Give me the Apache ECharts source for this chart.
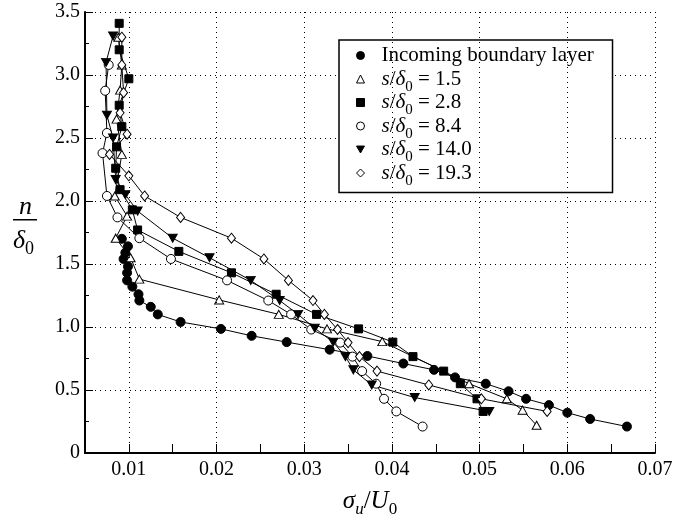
<!DOCTYPE html>
<html>
<head>
<meta charset="utf-8">
<script src="https://cdn.jsdelivr.net/npm/echarts@6/dist/echarts.min.js"></script>
<style>
  html, body { margin: 0; padding: 0; background: #fff; }
  #chart { width: 678px; height: 525px; }
</style>
</head>
<body>
<div id="chart"></div>
<script>
// Turbulence intensity profiles: n/δ0 against σu/U0
const xGridValues = [0.01, 0.02, 0.03, 0.04, 0.05, 0.06, 0.07];

const incomingX = [0.0092, 0.0099, 0.0096, 0.0094, 0.0099, 0.0098, 0.0098, 0.0104, 0.0111, 0.0112, 0.0125, 0.0133, 0.0159, 0.0205, 0.0240, 0.0280, 0.0329, 0.0372, 0.0413, 0.0448, 0.0472, 0.0507, 0.0533, 0.0553, 0.0579, 0.0600, 0.0626, 0.0668];
const incomingY = [1.70, 1.64, 1.59, 1.54, 1.48, 1.43, 1.37, 1.32, 1.26, 1.21, 1.16, 1.10, 1.04, 0.985, 0.93, 0.88, 0.82, 0.77, 0.71, 0.66, 0.60, 0.55, 0.49, 0.43, 0.38, 0.32, 0.27, 0.21];

const s15X = [0.0088, 0.0092, 0.0090, 0.0086, 0.0092, 0.0084, 0.0098, 0.0085, 0.0102, 0.0112, 0.0203, 0.0271, 0.0326, 0.0389, 0.0488, 0.0531, 0.0549, 0.0565];
const s15Y = [3.30, 3.08, 2.88, 2.65, 2.37, 2.04, 1.88, 1.705, 1.55, 1.38, 1.215, 1.10, 0.985, 0.884, 0.55, 0.43, 0.34, 0.22];

const s28X = [0.0089, 0.0089, 0.0100, 0.0089, 0.0092, 0.0086, 0.0085, 0.0090, 0.0104, 0.0110, 0.0157, 0.0217, 0.0268, 0.0314, 0.0362, 0.0401, 0.0424, 0.0459, 0.0478, 0.0497, 0.0504];
const s28Y = [3.41, 3.20, 2.97, 2.76, 2.59, 2.43, 2.26, 2.09, 1.93, 1.77, 1.60, 1.43, 1.26, 1.10, 0.985, 0.88, 0.765, 0.65, 0.55, 0.43, 0.33];

const s84X = [0.0077, 0.0073, 0.0075, 0.0070, 0.0075, 0.0087, 0.0112, 0.0148, 0.0212, 0.0259, 0.0285, 0.0308, 0.0341, 0.0355, 0.0366, 0.0382, 0.0391, 0.0405, 0.0435];
const s84Y = [3.08, 2.875, 2.54, 2.38, 2.04, 1.87, 1.705, 1.54, 1.37, 1.21, 1.10, 0.98, 0.876, 0.765, 0.65, 0.55, 0.43, 0.33, 0.21];

const s140X = [0.0082, 0.0074, 0.0075, 0.0082, 0.0085, 0.0096, 0.0110, 0.0150, 0.0192, 0.0239, 0.0272, 0.0293, 0.0312, 0.0333, 0.0347, 0.0356, 0.0377, 0.0426, 0.0511];
const s140Y = [3.31, 3.10, 2.68, 2.50, 2.17, 2.05, 1.92, 1.705, 1.55, 1.37, 1.21, 1.10, 0.99, 0.88, 0.765, 0.66, 0.54, 0.44, 0.33];

const s193X = [0.0092, 0.0092, 0.0094, 0.0090, 0.0098, 0.0078, 0.0100, 0.0118, 0.0159, 0.0217, 0.0254, 0.0282, 0.0310, 0.0323, 0.0338, 0.0350, 0.0363, 0.0383, 0.0442, 0.0502, 0.0577];
const s193Y = [3.30, 3.08, 2.86, 2.70, 2.53, 2.37, 2.20, 2.04, 1.87, 1.705, 1.54, 1.37, 1.21, 1.10, 0.98, 0.876, 0.765, 0.65, 0.54, 0.43, 0.33];

const seriesNames = ['Incoming boundary layer', 's/δ0 = 1.5', 's/δ0 = 2.8', 's/δ0 = 8.4', 's/δ0 = 14.0', 's/δ0 = 19.3'];
const legendLabels = ['Incoming boundary layer', '1.5', '2.8', '8.4', '14.0', '19.3'];

const SERIF = 'Liberation Serif';
const downTri = 'path://M0,0L10,0L5,8.66Z';
const filled = { color: '#000', borderColor: '#000', borderWidth: 1 };
const hollow = { color: '#fff', borderColor: '#000', borderWidth: 1 };

const styles = [
  { symbol: 'circle', size: 9, item: filled, icon: 'circle' },
  { symbol: 'triangle', size: [9, 8], item: hollow, icon: 'triangle' },
  { symbol: 'rect', size: 8, item: filled, icon: 'rect' },
  { symbol: 'circle', size: 9, item: hollow, icon: 'circle' },
  { symbol: downTri, size: [9, 8], item: filled, icon: downTri },
  { symbol: 'diamond', size: [8, 10], item: hollow, icon: 'diamond' }
];

const xs = [incomingX, s15X, s28X, s84X, s140X, s193X];
const ys = [incomingY, s15Y, s28Y, s84Y, s140Y, s193Y];

const zip = (a, b) => a.map((v, i) => [v, b[i]]);

const series = seriesNames.map((name, k) => ({
  name: name,
  type: 'line',
  data: zip(xs[k], ys[k]),
  symbol: styles[k].symbol,
  symbolSize: styles[k].size,
  showAllSymbol: true,
  lineStyle: { color: '#000', width: 1 },
  itemStyle: styles[k].item,
  z: 3,
  animation: false
}));

// dotted vertical grid lines at each labelled x value
series.push({
  type: 'line',
  data: [],
  silent: true,
  markLine: {
    silent: true,
    symbol: 'none',
    label: { show: false },
    lineStyle: { color: '#000', width: 1, type: [1, 4] },
    data: xGridValues.map(v => ({ xAxis: v }))
  },
  animation: false
});

const chart = echarts.init(document.getElementById('chart'), null, { renderer: 'canvas' });

chart.setOption({
  backgroundColor: '#fff',
  animation: false,
  grid: { left: 85, right: 23, top: 12, bottom: 72 },
  xAxis: {
    type: 'value',
    min: 0.005,
    max: 0.07,
    interval: 0.005,
    axisLine: { show: true, onZero: false, lineStyle: { color: '#000', width: 2 } },
    axisTick: { show: true, inside: true, length: 9, lineStyle: { color: '#000', width: 1 } },
    axisLabel: {
      margin: 7,
      fontFamily: SERIF,
      fontSize: 20,
      color: '#000',
      formatter: v => {
        const h = v * 100;
        return (v > 0.006 && Math.abs(h - Math.round(h)) < 1e-6) ? v.toFixed(2) : '';
      }
    },
    splitLine: { show: false },
    name: '{i|σ}{sub|u}{n|/}{i|U}{sub0|0}',
    nameLocation: 'middle',
    nameGap: 24,
    nameTextStyle: {
      fontFamily: SERIF, fontSize: 25, color: '#000',
      rich: {
        i: { fontFamily: SERIF, fontSize: 25, fontStyle: 'italic', color: '#000', lineHeight: 26 },
        n: { fontFamily: SERIF, fontSize: 25, color: '#000', lineHeight: 26 },
        sub: { fontFamily: SERIF, fontSize: 17, fontStyle: 'italic', color: '#000', lineHeight: 10, padding: [16, 0, 0, 0] },
        sub0: { fontFamily: SERIF, fontSize: 17, color: '#000', lineHeight: 10, padding: [16, 0, 0, 0] }
      }
    }
  },
  yAxis: {
    type: 'value',
    min: 0,
    max: 3.5,
    interval: 0.5,
    axisLine: { show: true, onZero: false, lineStyle: { color: '#000', width: 2 } },
    axisTick: { show: true, inside: true, length: 8, lineStyle: { color: '#000', width: 1 } },
    minorTick: { show: true, splitNumber: 2, length: 4, lineStyle: { color: '#000', width: 1 } },
    axisLabel: {
      margin: 5,
      fontFamily: SERIF,
      fontSize: 20,
      color: '#000',
      formatter: v => (v === 0 ? '0' : v.toFixed(1))
    },
    splitLine: { show: true, lineStyle: { color: '#000', width: 1, type: [1, 4] } }
  },
  legend: {
    orient: 'vertical',
    left: 339,
    top: 40,
    padding: [0, 15, 4, 17],
    itemGap: -7.5,
    itemWidth: 8,
    itemHeight: 8,
    borderColor: '#000',
    borderWidth: 1.5,
    backgroundColor: '#fff',
    selectedMode: false,
    data: seriesNames.map((name, k) => ({
      name: name,
      icon: styles[k].icon,
      itemStyle: styles[k].item
    })),
    formatter: name => {
      const k = seriesNames.indexOf(name);
      if (k === 0) return '{g|}{t|' + legendLabels[0] + '}{sub| }';
      return '{g|}{i|s}{t|/}{i|δ}{sub|0}{t| = ' + legendLabels[k] + '}';
    },
    textStyle: {
      fontFamily: SERIF, fontSize: 21, color: '#000', lineHeight: 22,
      rich: {
        g: { width: 12, lineHeight: 22 },
        t: { fontFamily: SERIF, fontSize: 21, color: '#000', lineHeight: 22 },
        i: { fontFamily: SERIF, fontSize: 21, fontStyle: 'italic', color: '#000', lineHeight: 22 },
        sub: { fontFamily: SERIF, fontSize: 15, color: '#000', lineHeight: 6, padding: [16, 0, 0, 0] }
      }
    }
  },
  graphic: [
    {
      type: 'text', left: 19, top: 194, z: 10,
      style: { text: 'n', font: 'italic 26px "Liberation Serif"', fill: '#000' }
    },
    {
      type: 'rect', z: 10,
      shape: { x: 13, y: 219, width: 24, height: 1.5 },
      style: { fill: '#000' }
    },
    {
      type: 'text', left: 13, top: 224, z: 10,
      style: {
        text: '{d|δ}{s|0}',
        rich: {
          d: { font: 'italic 26px "Liberation Serif"', fill: '#000', lineHeight: 26 },
          s: { font: '18px "Liberation Serif"', fill: '#000', lineHeight: 10, padding: [16, 0, 0, 0] }
        }
      }
    }
  ],
  series: series
});
</script>
</body>
</html>
